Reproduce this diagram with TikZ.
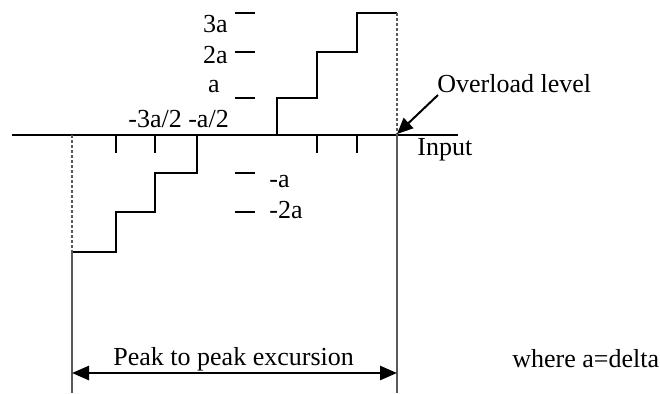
\documentclass[tikz,border=0pt]{standalone}
\usepackage{fontspec}
\setmainfont{Liberation Serif}
\usetikzlibrary{arrows.meta}
\begin{document}
\begin{tikzpicture}[x=0.5pt,y=-0.5pt,
  lbl/.style={inner sep=0pt,font=\fontsize{13}{15}\selectfont},
  stair/.style={line width=1.25pt,line join=miter},
  axisline/.style={line width=1.4pt},
  tick/.style={line width=1.25pt},
  levelmark/.style={line width=1.25pt},
  guide/.style={line width=1pt,dash pattern=on 1.5pt off 1pt,gray!70!black},
  bound/.style={line width=0.8pt,gray!70!black},
  tipped/.style={line width=1pt,-{Triangle[length=8pt,width=7pt]}}]
\useasboundingbox (0,0) rectangle (660,393);
% axis
\coordinate (ax0) at (12,135);
\coordinate (ax1) at (458,135);
\draw[axisline] (ax0) -- (ax1);
% staircase corners
\coordinate (s0) at (72,252);
\coordinate (s1) at (116,252);
\coordinate (s2) at (116,212);
\coordinate (s3) at (155,212);
\coordinate (s4) at (155,173);
\coordinate (s5) at (197,173);
\coordinate (s6) at (197,135);
\coordinate (s7) at (277,135);
\coordinate (s8) at (277,98);
\coordinate (s9) at (317,98);
\coordinate (s10) at (317,52);
\coordinate (s11) at (357,52);
\coordinate (s12) at (357,13);
\coordinate (s13) at (397,13);
\draw[stair] (s0) -- (s1) -- (s2) -- (s3) -- (s4) -- (s5) -- (s6);
\draw[stair] (s7) -- (s8) -- (s9) -- (s10) -- (s11) -- (s12) -- (s13);
% dotted guides
\coordinate (lax) at (72,135);
\coordinate (rax) at (397,135);
\draw[guide] (lax) -- (s0);
\draw[guide] (s13) -- (rax);
% solid boundaries
\coordinate (lbot) at (72,393);
\coordinate (rbot) at (397,393);
\draw[bound] (s0) -- (lbot);
\draw[bound] (rax) -- (rbot);
% ticks below axis
\foreach \x [count=\i] in {116,155,317,357}{
  \coordinate (t\i a) at (\x,135);
  \coordinate (t\i b) at (\x,153);
  \draw[tick] (t\i a) -- (t\i b);
}
% level marks
\foreach \y [count=\i] in {13,52,98,173,212}{
  \coordinate (m\i a) at (235,\y);
  \coordinate (m\i b) at (255,\y);
  \draw[levelmark] (m\i a) -- (m\i b);
}
% labels
\node[lbl,anchor=base east] (l3a) at (228,32) {3a};
\node[lbl,anchor=base east] (l2a) at (228,63) {2a};
\node[lbl,anchor=base east] (l1a) at (220,92) {a};
\node[lbl,anchor=base west] (lhalf) at (128,127) {-3a/2 -a/2};
\node[lbl,anchor=base west] (lm1) at (269,187) {-a};
\node[lbl,anchor=base west] (lm2) at (269,218) {-2a};
\node[lbl,anchor=base west] (ovl) at (437,92) {Overload level};
\node[lbl,anchor=base west] (inp) at (417,155) {Input};
\node[lbl,anchor=base west] (ptp) at (113,365) {Peak to peak excursion};
\node[lbl,anchor=base west] (where) at (512,367) {where a=delta};
% overload arrow
\coordinate (ovs) at (438,95);
\coordinate (ovt) at (397,134);
\draw[tipped] (ovs) -- (ovt);
% peak to peak arrow
\coordinate (pl) at (72,373);
\coordinate (pr) at (397,373);
\draw[line width=1.3pt,{Triangle[length=8.5pt,width=7pt]}-{Triangle[length=8.5pt,width=7pt]}] (pl) -- (pr);
\end{tikzpicture}
\end{document}
